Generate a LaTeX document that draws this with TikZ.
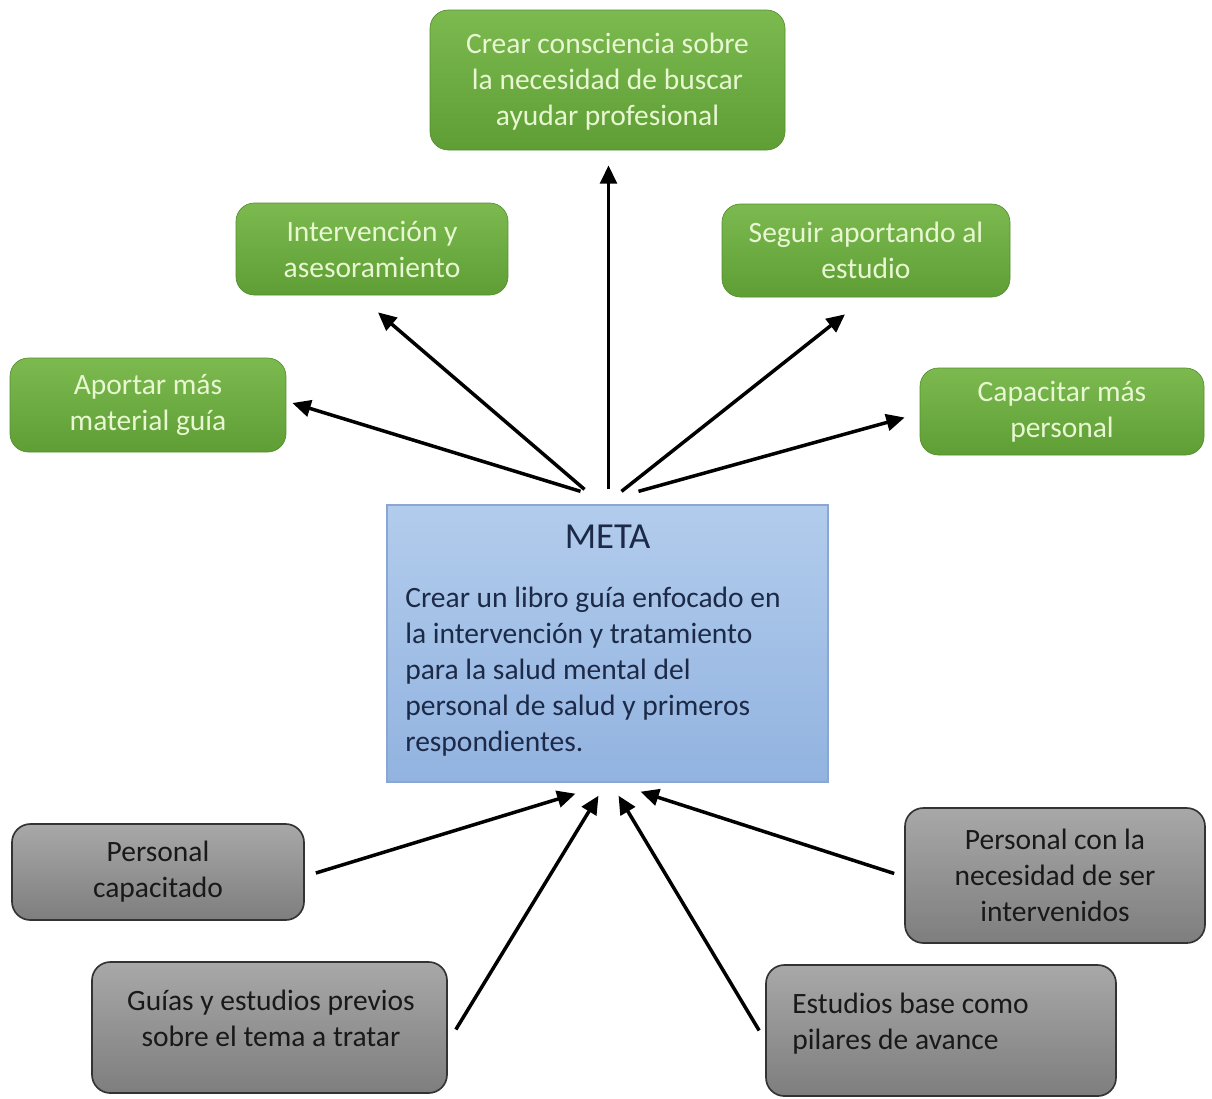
\documentclass[tikz,border=0pt]{standalone}
\usepackage{fontspec}
\setmainfont{Carlito}
\usetikzlibrary{arrows.meta,calc}
\newdimen\pxu \pxu=0.6pt
\definecolor{gtop}{HTML}{7CBA50}
\definecolor{gbot}{HTML}{5E9E34}
\definecolor{gtext}{HTML}{E8F7D2}
\definecolor{ytop}{HTML}{A8A8A8}
\definecolor{ybot}{HTML}{7E7E7E}
\definecolor{btop}{HTML}{B2CCEC}
\definecolor{bbot}{HTML}{92B3E0}
\definecolor{bline}{HTML}{8AA6D4}
\definecolor{btext}{HTML}{1C2A48}
\tikzset{
  txt/.style={font=\fontsize{17.7}{21.6}\selectfont, align=center, inner sep=0pt},
  greenbox/.style={rounded corners=11pt, top color=gtop, bottom color=gbot, draw=gbot!90!black, line width=0.4pt, inner sep=0pt, text=gtext, txt},
  graybox/.style={rounded corners=11pt, top color=ytop, bottom color=ybot, draw=black!80, line width=1pt, inner sep=0pt, text=black!90, txt},
  metabox/.style={top color=btop, bottom color=bbot, draw=bline, line width=0.8pt, inner sep=0pt},
  arr/.style={line width=2.1pt, -{Triangle[length=11pt,width=10pt]}},
}
\begin{document}
\begin{tikzpicture}[x=0.6pt,y=-0.6pt]
\useasboundingbox (0,0) rectangle (1212,1098);
% green boxes
\node[greenbox, minimum width=355*\pxu, minimum height=140*\pxu] (top) at (607.5,80) {};
\node[txt, text=gtext] (toptext) at (607.5,82) {Crear consciencia sobre\\la necesidad de buscar\\ayudar profesional};
\node[greenbox, minimum width=272*\pxu, minimum height=92*\pxu] (int) at (372,249) {Intervención y\\asesoramiento};
\node[greenbox, minimum width=276*\pxu, minimum height=94*\pxu] (aport) at (148,405) {Aportar más\\material guía};
\node[greenbox, minimum width=288*\pxu, minimum height=93*\pxu] (seg) at (866,250.5) {Seguir aportando al\\estudio};
\node[greenbox, minimum width=284*\pxu, minimum height=87*\pxu] (cap) at (1062,411.5) {Capacitar más\\personal};
% meta
\node[metabox, minimum width=441*\pxu, minimum height=277*\pxu] (meta) at (607.5,643.5) {};
\node[txt, text=btext, font=\fontsize{22}{26}\selectfont] (metatitle) at (607.5,537) {META};
\node[txt, text=btext, align=left, anchor=west] (metabody) at (405,672) {Crear un libro guía enfocado en\\la intervención y tratamiento\\para la salud mental del\\personal de salud y primeros\\respondientes.};
% gray boxes
\node[graybox, minimum width=292*\pxu, minimum height=96*\pxu] (pc) at (158,872) {Personal\\capacitado};
\node[graybox, minimum width=355*\pxu, minimum height=131*\pxu] (guias) at (269.5,1027.5) {};
\node[txt, text=black!90] (guiastext) at (271,1018) {Guías y estudios previos\\sobre el tema a tratar};
\node[graybox, minimum width=300*\pxu, minimum height=135*\pxu] (pcon) at (1055,875.5) {Personal con la\\necesidad de ser\\intervenidos};
\node[graybox, minimum width=350*\pxu, minimum height=131*\pxu] (est) at (941,1030.5) {};
\node[txt, text=black!90, align=left, anchor=west] (esttext) at (792,1024) {Estudios base como\\pilares de avance};
% upper arrows
\draw[arr] ([shift={(1,-15)}]meta.north) -- ([shift={(1,15)}]top.south);
\draw[arr] ([shift={(-23,-15)}]meta.north) -- ([shift={(6,17)}]int.south);
\draw[arr] ([shift={(-27,-13)}]meta.north) -- ([shift={(6,-2)}]aport.east);
\draw[arr] ([shift={(14,-13)}]meta.north) -- ([shift={(-21,17)}]seg.south);
\draw[arr] ([shift={(31,-13)}]meta.north) -- ([shift={(-15,6)}]cap.west);
% lower arrows
\draw[arr] ([shift={(11,1)}]pc.east) -- ([shift={(-32,11)}]meta.south);
\draw[arr] ([shift={(8,2)}]guias.east) -- ([shift={(-9,13)}]meta.south);
\draw[arr] ([shift={(-6,0)}]est.west) -- ([shift={(11,13)}]meta.south);
\draw[arr] ([shift={(-10,-2)}]pcon.west) -- ([shift={(33,9)}]meta.south);
\end{tikzpicture}
\end{document}
